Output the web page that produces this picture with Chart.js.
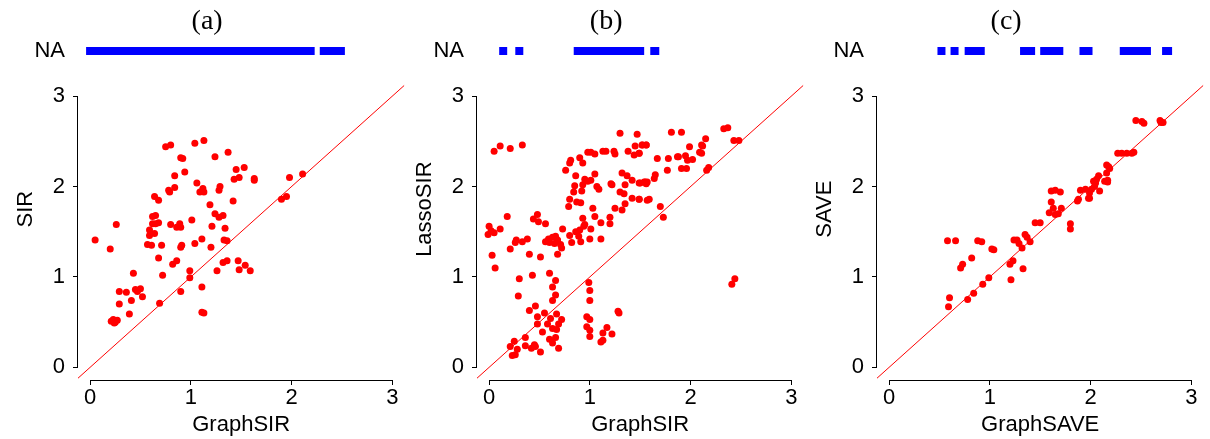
<!DOCTYPE html>
<html>
<head>
<meta charset="utf-8">
<title>GraphSIR / GraphSAVE</title>
<script src="https://cdn.jsdelivr.net/npm/chart.js@4.4.1/dist/chart.umd.min.js"></script>
<style>
  html, body { margin: 0; padding: 0; background: #fff; }
  #wrap { position: relative; width: 1210px; height: 439px; overflow: hidden; }
  .panel { position: absolute; top: 0; }
</style>
</head>
<body>
<div id="wrap">
  <canvas class="panel" id="panelA" width="410" height="439" style="left:0px"></canvas>
  <canvas class="panel" id="panelB" width="410" height="439" style="left:399px"></canvas>
  <canvas class="panel" id="panelC" width="410" height="439" style="left:799px"></canvas>
</div>
<script>
// axes shared by the three panels
const axisTicks = [0, 1, 2, 3];
const naLevel = 3.5;            // row where missing values are marked
const xRange = [-0.12, 3.12];
const yRange = [-0.14, 3.64];

const panelTitles = ['(a)', '(b)', '(c)'];
const xNames = ['GraphSIR', 'GraphSIR', 'GraphSAVE'];
const yNames = ['SIR', 'LassoSIR', 'SAVE'];

// (a) GraphSIR vs SIR  [x, y]
const pointsA = [
  [0.05,1.41],[0.26,1.58],[0.20,1.31],[0.43,1.04],[0.29,0.84],[0.36,0.83],[0.45,0.86],[0.50,0.87],
  [0.47,0.84],[0.52,0.78],[0.41,0.74],[0.29,0.70],[0.39,0.59],[0.21,0.51],[0.23,0.53],[0.25,0.50],
  [0.27,0.52],[0.24,0.49],[0.69,0.71],[0.68,1.21],[0.72,1.02],[0.71,1.35],[0.57,1.36],[0.61,1.35],
  [0.59,1.46],[0.59,1.52],[0.64,1.48],[0.62,1.59],[0.65,1.59],[0.68,1.60],[0.62,1.67],[0.65,1.68],
  [0.64,1.89],[0.68,1.85],[0.79,1.94],[0.78,1.96],[0.84,1.99],[0.84,2.12],[0.94,2.16],[0.75,2.44],
  [0.80,2.46],[1.04,2.48],[1.13,2.51],[0.90,2.32],[0.92,2.31],[1.24,2.33],[1.37,2.38],[1.45,2.19],
  [1.53,2.21],[1.48,2.10],[1.43,2.08],[1.63,2.09],[1.63,2.07],[1.06,2.04],[1.12,1.98],[1.13,1.94],
  [1.09,1.94],[1.29,2.00],[1.28,1.96],[1.42,1.84],[1.19,1.80],[1.24,1.70],[1.28,1.66],[1.32,1.68],
  [1.01,1.63],[0.80,1.58],[0.86,1.55],[0.89,1.59],[0.90,1.55],[1.21,1.56],[1.34,1.54],[0.91,1.35],
  [0.90,1.33],[1.04,1.37],[1.11,1.42],[1.20,1.33],[1.33,1.41],[1.36,1.40],[0.86,1.18],[0.82,1.14],
  [0.99,1.07],[0.99,0.99],[0.90,0.84],[1.11,0.89],[1.11,0.61],[1.13,0.60],[1.26,1.07],[1.32,1.16],
  [1.36,1.18],[1.47,1.18],[1.48,1.08],[1.54,1.13],[1.59,1.07],[1.90,1.86],[1.95,1.89],[1.98,2.10],
  [2.11,2.14]
];
// GraphSIR values whose SIR result is NA
const naA = [0.00,0.06,0.12,0.17,0.23,0.29,0.34,0.40,0.46,0.51,0.57,0.63,0.69,0.74,0.80,0.86,0.91,
  0.97,1.03,1.08,1.14,1.20,1.25,1.31,1.37,1.42,1.48,1.54,1.60,1.65,1.71,1.77,1.82,1.88,1.94,1.99,
  2.05,2.11,2.16,2.19,2.32,2.38,2.44,2.49];

// (b) GraphSIR vs LassoSIR
const pointsB = [
  [0.05,2.39],[0.11,2.45],[0.21,2.42],[0.33,2.46],[1.30,2.59],[1.47,2.58],[1.45,2.45],[1.52,2.46],
  [1.56,2.46],[0.98,2.38],[1.01,2.38],[1.05,2.36],[1.13,2.39],[1.16,2.39],[1.24,2.39],[1.25,2.36],
  [1.38,2.39],[1.44,2.35],[1.49,2.37],[0.81,2.29],[0.80,2.26],[0.90,2.32],[0.93,2.26],[0.76,2.18],
  [0.86,2.12],[1.05,2.14],[0.95,2.08],[0.98,2.06],[1.01,2.07],[0.93,2.02],[0.85,2.01],[1.07,2.00],
  [1.09,1.97],[0.84,1.94],[0.92,1.95],[1.21,2.03],[1.22,2.02],[1.32,2.15],[1.37,2.12],[1.42,2.07],
  [1.49,2.04],[1.54,2.05],[1.57,2.05],[1.35,2.02],[1.30,1.94],[1.34,1.92],[1.42,1.87],[1.49,1.86],
  [1.57,1.85],[1.35,1.81],[0.80,1.86],[0.87,1.83],[0.91,1.82],[0.79,1.78],[1.03,1.76],[1.25,1.76],
  [1.32,1.74],[1.05,1.67],[0.93,1.65],[1.20,1.66],[1.20,1.59],[1.11,1.60],[0.95,1.58],[0.94,1.56],
  [1.01,1.53],[0.90,1.52],[0.86,1.50],[0.80,1.46],[0.73,1.53],[0.89,1.45],[0.91,1.39],[1.00,1.42],
  [1.11,1.42],[0.82,1.38],[0.18,1.67],[0.44,1.64],[0.48,1.69],[0.49,1.61],[0.56,1.59],[0.00,1.56],
  [0.02,1.51],[-0.01,1.47],[0.05,1.49],[0.11,1.53],[0.27,1.41],[0.26,1.38],[0.33,1.39],[0.38,1.42],
  [0.21,1.31],[0.40,1.25],[0.51,1.22],[0.03,1.24],[0.06,1.10],[0.56,1.39],[0.59,1.42],[0.63,1.44],
  [0.66,1.45],[0.68,1.41],[0.65,1.37],[0.60,1.38],[0.71,1.36],[0.72,1.32],[0.68,1.25],[0.30,0.98],
  [0.43,1.02],[0.60,1.04],[0.66,0.96],[0.63,0.89],[0.66,0.80],[0.29,0.79],[0.63,0.74],[0.40,0.63],
  [0.46,0.68],[0.55,0.60],[0.48,0.56],[0.61,0.54],[0.67,0.59],[0.72,0.53],[0.48,0.48],[0.58,0.48],
  [0.69,0.48],[0.63,0.43],[0.67,0.42],[0.53,0.39],[0.36,0.33],[0.60,0.31],[0.66,0.33],[0.63,0.27],
  [0.25,0.29],[0.21,0.23],[0.28,0.20],[0.23,0.13],[0.26,0.14],[0.36,0.24],[0.42,0.21],[0.45,0.25],
  [0.46,0.23],[0.51,0.17],[0.69,0.21],[0.99,0.94],[1.00,0.85],[1.00,0.74],[0.97,0.56],[1.00,0.53],
  [0.97,0.45],[1.00,0.41],[1.00,0.34],[1.13,0.30],[1.13,0.38],[1.17,0.44],[1.22,0.37],[1.28,0.62],
  [1.29,0.60],[1.11,0.28],[1.81,2.60],[1.91,2.60],[2.33,2.64],[2.37,2.65],[2.43,2.51],[2.48,2.51],
  [2.15,2.53],[2.11,2.46],[1.99,2.44],[2.09,2.38],[2.11,2.37],[1.88,2.33],[1.95,2.34],[1.78,2.31],
  [1.67,2.31],[1.97,2.29],[2.02,2.30],[1.91,2.20],[1.96,2.20],[1.77,2.18],[1.65,2.13],[1.64,2.09],
  [1.55,2.05],[1.56,2.03],[1.50,2.04],[1.49,2.37],[1.52,2.46],[1.56,2.46],[2.18,2.21],[2.16,2.18],
  [1.49,1.86],[1.59,1.86],[1.70,1.78],[1.73,1.66],[2.44,0.98],[2.41,0.92],[2.12,2.45],[1.87,2.33]
];
const naB = [0.14,0.30,0.88,0.93,0.99,1.05,1.11,1.17,1.23,1.29,1.35,1.41,1.46,1.50,1.64,1.65];

// (c) GraphSAVE vs SAVE
const pointsC = [
  [0.58,1.40],[0.66,1.40],[0.88,1.40],[0.92,1.39],[1.02,1.31],[1.04,1.30],[0.82,1.21],[0.73,1.14],
  [0.71,1.10],[0.60,0.77],[0.59,0.67],[0.78,0.75],[0.84,0.82],[0.93,0.92],[0.99,0.99],[1.21,0.97],
  [1.20,1.14],[1.23,1.18],[1.33,1.09],[1.32,1.32],[1.24,1.41],[1.27,1.41],[1.35,1.47],[1.37,1.44],
  [1.40,1.39],[1.29,1.37],[1.45,1.60],[1.50,1.60],[1.61,1.95],[1.65,1.96],[1.70,1.94],[1.61,1.83],
  [1.63,1.76],[1.71,1.76],[1.59,1.71],[1.65,1.69],[1.68,1.70],[1.80,1.59],[1.80,1.53],[1.88,1.86],
  [1.90,1.96],[1.95,1.97],[1.99,1.87],[2.01,1.97],[2.04,2.00],[2.05,2.04],[2.06,2.08],[2.08,2.12],
  [2.03,2.06],[2.09,1.95],[1.99,1.93],[2.17,2.07],[2.16,2.15],[2.18,2.22],[2.16,2.24],[2.19,2.20],
  [2.27,2.37],[2.31,2.37],[2.36,2.37],[2.41,2.37],[2.43,2.38],[2.45,2.73],[2.51,2.72],[2.53,2.70],
  [2.69,2.73],[2.72,2.71],[2.70,2.71],[1.87,1.84],[1.98,1.87],[2.14,2.06],[2.17,2.05]
];
const naC = [0.52,0.65,0.79,0.84,0.87,0.91,1.34,1.38,1.41,1.54,1.59,1.64,1.69,1.93,1.98,
  2.33,2.39,2.45,2.51,2.56,2.75,2.77];

const sansFont = { family: 'Liberation Sans, Arial, sans-serif', size: 22 };
const black = '#000';

// R style axes: the line only runs from the first to the last tick
const axisLines = {
  id: 'axisLines',
  afterDraw(chart) {
    const { ctx, chartArea, scales } = chart;
    const lo = axisTicks[0], hi = axisTicks[axisTicks.length - 1];
    const by = Math.round(chartArea.bottom) + 0.5;
    const lx = Math.round(chartArea.left) - 0.5;
    ctx.save();
    ctx.strokeStyle = black;
    ctx.lineWidth = 1;
    ctx.beginPath();
    ctx.moveTo(scales.x.getPixelForValue(lo), by);
    ctx.lineTo(scales.x.getPixelForValue(hi), by);
    ctx.moveTo(lx, scales.y.getPixelForValue(lo));
    ctx.lineTo(lx, scales.y.getPixelForValue(hi));
    ctx.stroke();
    ctx.restore();
  }
};

function drawPanel(id, title, xName, yName, points, naXs) {
  const ctx = document.getElementById(id).getContext('2d');
  const hideNA = c => (c.tick && c.tick.value === naLevel) ? 'rgba(0,0,0,0)' : black;

  return new Chart(ctx, {
    type: 'scatter',
    data: {
      datasets: [
        {
          // y = x across the plotting region
          data: [{ x: xRange[0], y: xRange[0] }, { x: xRange[1], y: xRange[1] }],
          showLine: true,
          borderColor: '#ff0000',
          borderWidth: 1,
          pointRadius: 0,
          order: 0
        },
        {
          data: points.map(p => ({ x: p[0], y: p[1] })),
          backgroundColor: '#ff0000',
          borderWidth: 0,
          pointRadius: 3.5,
          order: 1
        },
        {
          // 8px squares; the NA row sits on a whole pixel so the run edges stay crisp
          data: naXs.map(v => ({ x: v, y: naLevel })),
          pointStyle: 'rect',
          backgroundColor: '#0000ff',
          borderWidth: 0,
          pointRadius: 5.657,
          order: 2
        }
      ]
    },
    options: {
      responsive: false,
      animation: false,
      events: [],
      layout: { padding: { top: 0, left: 8, right: 3.7, bottom: 0 } },
      plugins: {
        legend: { display: false },
        tooltip: { enabled: false },
        title: {
          display: true,
          text: title,
          color: black,
          font: { family: 'Liberation Serif, Times New Roman, serif', size: 28, weight: 'normal' },
          padding: { top: 4.346, bottom: 0.4 }
        }
      },
      scales: {
        x: {
          type: 'linear',
          min: xRange[0],
          max: xRange[1],
          afterBuildTicks: s => { s.ticks = axisTicks.map(v => ({ value: v })); },
          afterFit: s => { s.height = 59; },
          border: { display: false },
          grid: { drawOnChartArea: false, drawTicks: true, tickLength: 5, color: black, lineWidth: 1 },
          ticks: { color: black, font: sansFont, padding: 0, maxRotation: 0, autoSkip: false },
          title: { display: true, text: xName, color: black, font: sansFont, padding: { top: 0, bottom: 1 } }
        },
        y: {
          type: 'linear',
          min: yRange[0],
          max: yRange[1],
          afterBuildTicks: s => { s.ticks = axisTicks.concat([naLevel]).map(v => ({ value: v })); },
          afterFit: s => { s.width = 70; },
          border: { display: false },
          grid: { drawOnChartArea: false, drawTicks: true, tickLength: 5, color: hideNA, tickColor: hideNA, lineWidth: 1 },
          ticks: {
            color: black,
            font: sansFont,
            padding: 8,
            autoSkip: false,
            callback: v => v === naLevel ? 'NA' : String(v)
          },
          title: { display: true, text: yName, color: black, font: sansFont, padding: { top: 5, bottom: 0 } }
        }
      }
    },
    plugins: [axisLines]
  });
}

drawPanel('panelA', panelTitles[0], xNames[0], yNames[0], pointsA, naA);
drawPanel('panelB', panelTitles[1], xNames[1], yNames[1], pointsB, naB);
drawPanel('panelC', panelTitles[2], xNames[2], yNames[2], pointsC, naC);
</script>
</body>
</html>
